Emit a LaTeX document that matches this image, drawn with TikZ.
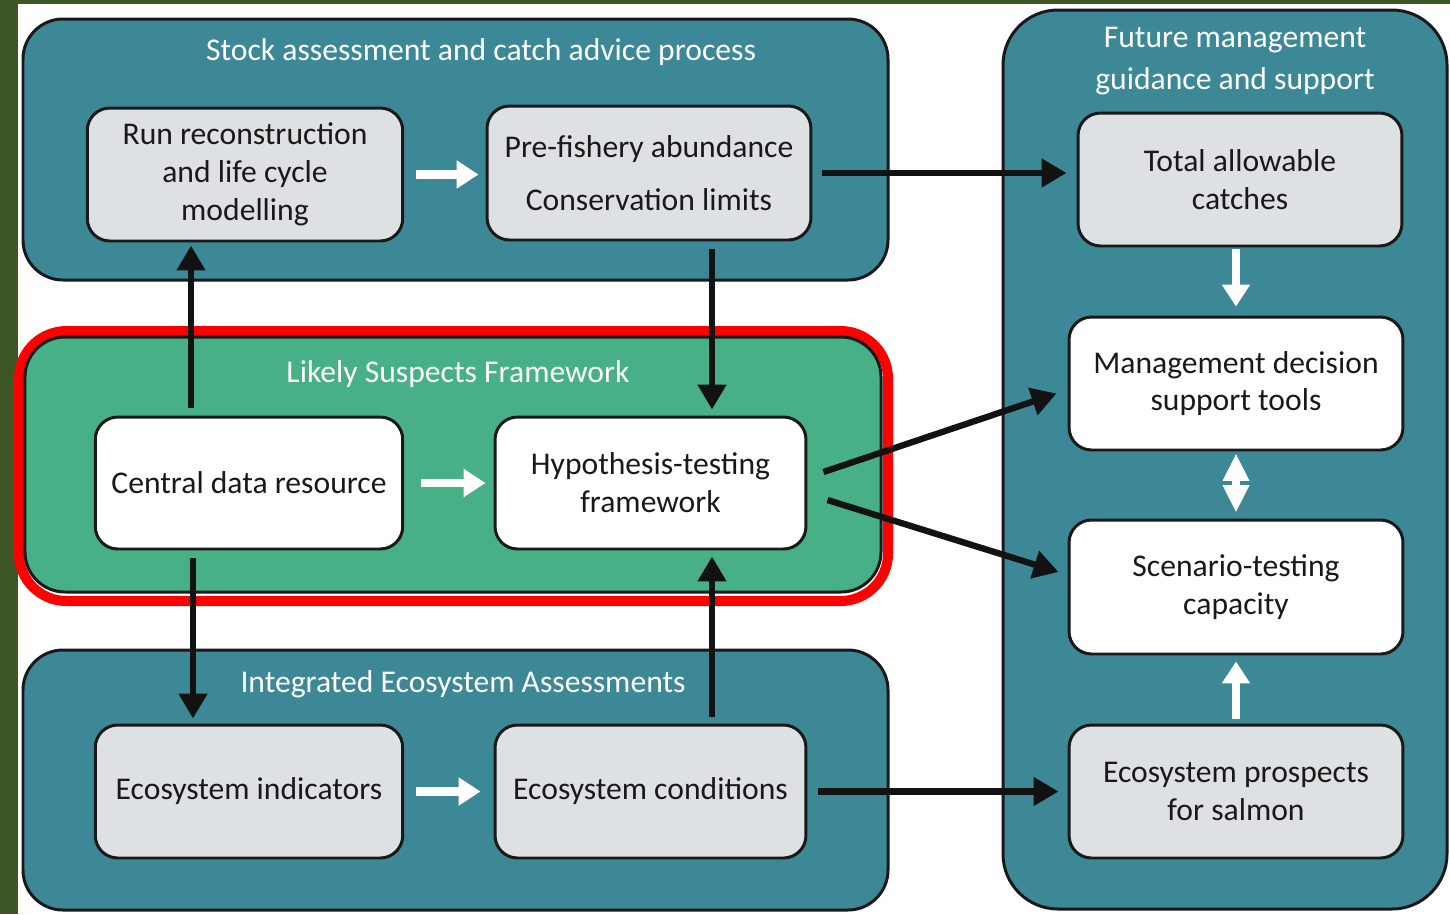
\documentclass[tikz,border=0pt]{standalone}
\usepackage{fontspec}
\setmainfont{Carlito}
\usetikzlibrary{arrows.meta,calc,positioning}
\definecolor{panelteal}{RGB}{61,136,150}
\definecolor{suspectgreen}{RGB}{72,176,134}
\definecolor{boxgrey}{RGB}{221,225,227}
\definecolor{framegreen}{RGB}{62,86,36}
\definecolor{alertred}{RGB}{255,0,0}

\begin{document}
\begin{tikzpicture}[x=0.02cm,y=-0.02cm,
  panel/.style={draw=black!90,line width=1.7pt,fill=panelteal,rounded corners=0.8cm},
  greybox/.style={draw=black!90,line width=1.7pt,fill=boxgrey,rounded corners=0.45cm,
        align=center,inner sep=0pt,text=black!90,font=\fontsize{18}{21.5}\selectfont},
  whitebox/.style={greybox,fill=white},
  paneltitle/.style={text=white,align=center,font=\fontsize{18}{24}\selectfont},
  blackarrow/.style={black!93,line width=3.6pt,-{Triangle[length=0.5cm,width=0.55cm]}},
  whitearrow/.style={white,line width=5pt,-{Triangle[length=0.44cm,width=0.54cm]}}]
  \useasboundingbox (0,0) rectangle (1450,914);
  \fill[white] (0,0) rectangle (1450,914);
  \fill[framegreen] (0,0) rectangle (18,914);
  \fill[framegreen] (0,0) rectangle (1450,4);

  % the four panels
  \draw[panel] (23,19) rectangle (888,280);
  \draw[alertred,line width=0.2cm,rounded corners=0.95cm] (19,331) rectangle (888,601);
  \draw[panel,fill=suspectgreen] (25,337) rectangle (881,592);
  \draw[panel] (23,650) rectangle (888,910);
  \draw[panel,rounded corners=1.1cm] (1003,10) rectangle (1447,909);

  \node[paneltitle] (stocktitle) at (481,52) {Stock assessment and catch advice process};
  \node[paneltitle] (lsftitle) at (458,374) {Likely Suspects Framework};
  \node[paneltitle] (ieatitle) at (463,684) {Integrated Ecosystem Assessments};
  \node[paneltitle] (futuretitle) at (1235,61) {Future management\\guidance and support};

  % stock assessment
  \node[greybox,minimum width=6.31cm,minimum height=2.66cm] (run) at (245,174.5)
        {Run reconstruction\\and life cycle\\modelling};
  \node[greybox,minimum width=6.48cm,minimum height=2.68cm] (pre) at (649,173)
        {Pre-fishery abundance\\[9pt]Conservation limits};

  % likely suspects
  \node[whitebox,minimum width=6.15cm,minimum height=2.64cm] (central) at (249,483)
        {Central data resource};
  \node[whitebox,minimum width=6.22cm,minimum height=2.64cm] (hyp) at (650.5,483)
        {Hypothesis-testing\\framework};

  % ecosystem assessments
  \node[greybox,minimum width=6.15cm,minimum height=2.66cm] (ecoind) at (249,791.5)
        {Ecosystem indicators};
  \node[greybox,minimum width=6.22cm,minimum height=2.66cm] (ecocond) at (650.5,791.5)
        {Ecosystem conditions};

  % future management
  \node[greybox,minimum width=6.48cm,minimum height=2.66cm] (tac) at (1240,179.5)
        {Total allowable\\catches};
  \node[whitebox,minimum width=6.68cm,minimum height=2.66cm] (mgmt) at (1236,383.5)
        {Management decision\\support tools};
  \node[whitebox,minimum width=6.68cm,minimum height=2.68cm] (scen) at (1236,587)
        {Scenario-testing\\capacity};
  \node[greybox,minimum width=6.68cm,minimum height=2.66cm] (prosp) at (1236,791.5)
        {Ecosystem prospects\\for salmon};

  \coordinate (feedup) at ($(central.north)+(-58,0)$);
  \coordinate (feeddown) at ($(central.south)+(-56,0)$);
  \coordinate (prefoot) at ($(pre.south)+(63,0)$);
  \coordinate (condtop) at ($(ecocond.north)+(61.5,0)$);

  % white arrows inside the panels
  \draw[whitearrow,shorten <=0.24cm,shorten >=0.14cm] (run.east) -- (run.east -| pre.west);
  \draw[whitearrow,shorten <=0.34cm,shorten >=0.16cm] (central.east) -- (central.east -| hyp.west);
  \draw[whitearrow,shorten <=0.24cm,shorten >=0.26cm] (ecoind.east) -- (ecoind.east -| ecocond.west);
  \draw[whitearrow,shorten <=0.04cm,shorten >=0.18cm] (mgmt.north |- tac.south) -- (mgmt.north);
  \draw[whitearrow,{Triangle[length=0.55cm,width=0.5cm]}-{Triangle[length=0.55cm,width=0.5cm]},
        shorten <=0.04cm,shorten >=0.12cm] (mgmt.south) -- (scen.north);
  \draw[whitearrow,shorten <=0.1cm,shorten >=0.12cm] (prosp.north) -- (scen.south);

  % black arrows between the panels
  \draw[blackarrow,shorten <=0.2cm,shorten >=0.2cm] (pre.east) -- (pre.east -| tac.west);
  \draw[blackarrow,shorten <=0.16cm,shorten >=0.06cm] (feedup) -- (feedup |- run.south);
  \draw[blackarrow,shorten <=0.16cm,shorten >=0.12cm] (prefoot) -- (prefoot |- hyp.north);
  \draw[blackarrow,shorten <=0.16cm,shorten >=0.1cm] (feeddown) -- (feeddown |- ecoind.north);
  \draw[blackarrow,shorten <=0.14cm,shorten >=0.12cm] (condtop) -- (condtop |- hyp.south);
  \draw[blackarrow] ($(hyp.east)+(16,-11)$) -- ($(mgmt.west)+(-11,10)$);
  \draw[blackarrow] ($(hyp.east)+(20,17)$) -- ($(scen.west)+(-9,-15)$);
  \draw[blackarrow,shorten <=0.22cm,shorten >=0.18cm] (ecocond.east) -- (ecocond.east -| prosp.west);
\end{tikzpicture}
\end{document}
